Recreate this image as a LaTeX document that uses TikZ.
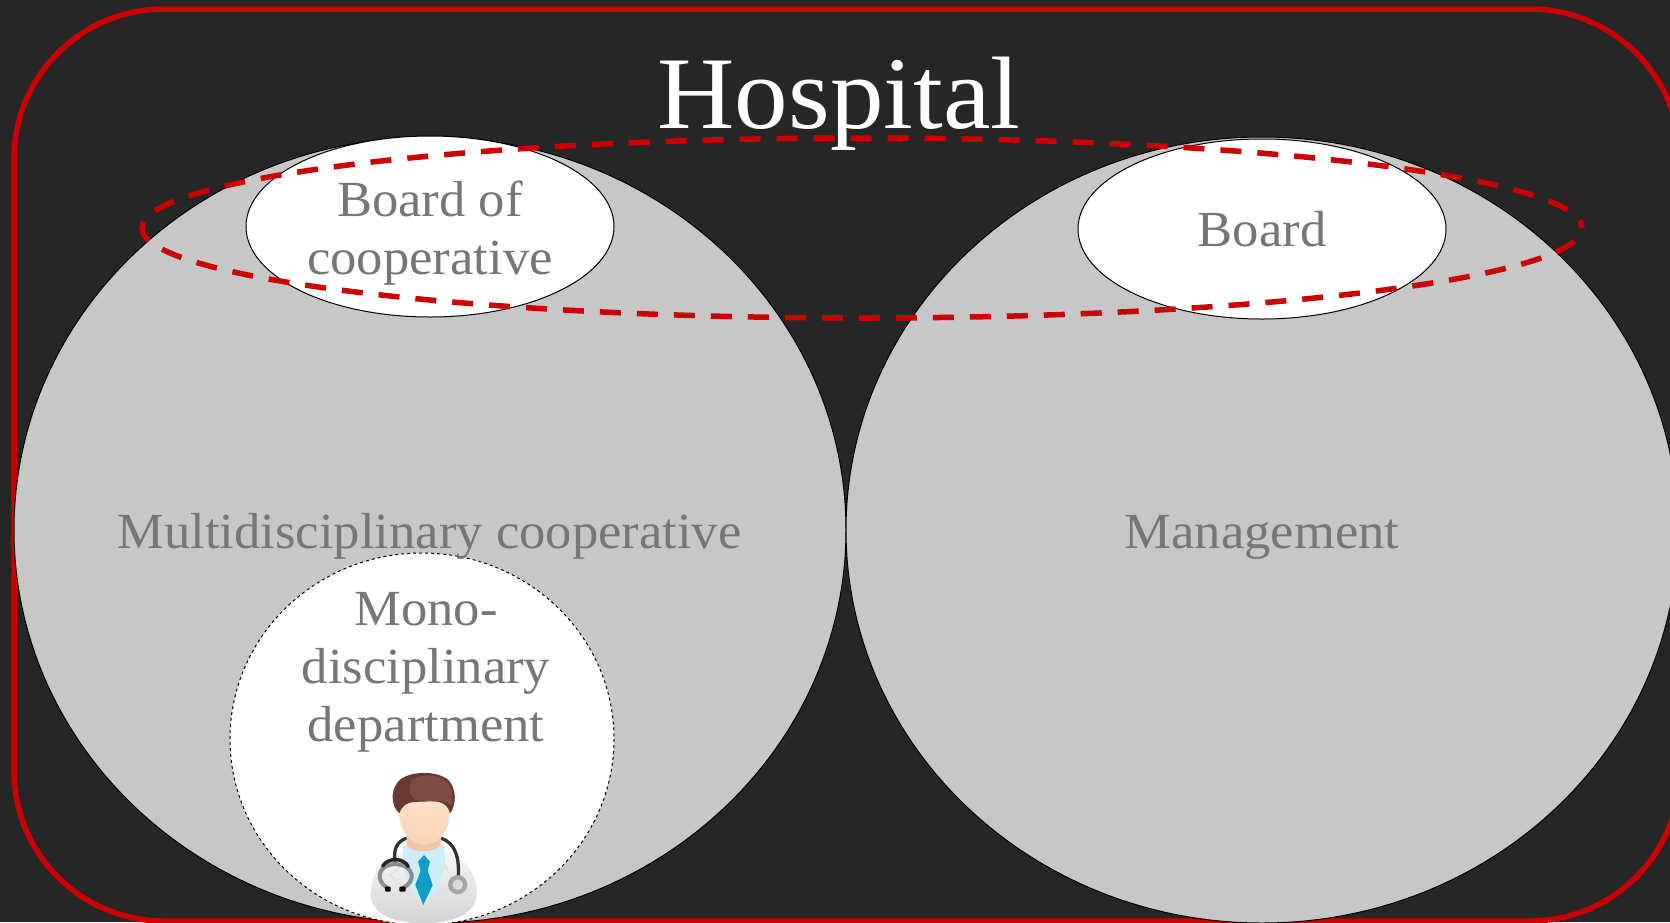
\documentclass[tikz,border=0pt]{standalone}
\usepackage{fontspec}
\setmainfont[FakeStretch=1.04]{Liberation Serif}
\usetikzlibrary{shapes.geometric}
\definecolor{bgc}{HTML}{262626}
\definecolor{redc}{HTML}{CC0000}
\definecolor{greyfill}{HTML}{C7C7C7}
\definecolor{labelc}{HTML}{767676}
\definecolor{hairdark}{HTML}{6A3830}
\definecolor{hairlight}{HTML}{7F4C45}
\definecolor{tiec}{HTML}{0F9EC6}
\definecolor{shirtc}{HTML}{CFECF8}
\definecolor{skintop}{HTML}{FDE4CF}
\definecolor{skinlow}{HTML}{FAD3B5}
\definecolor{neckc}{HTML}{F2C5A3}
\tikzset{
  bigcircle/.style={draw=black,fill=greyfill,line width=1pt},
  boardshape/.style={draw=black,fill=white,line width=1pt},
  lab/.style={text=labelc,font=\fontsize{50.6}{58}\selectfont,align=center,inner sep=0pt},
  dashring/.style={draw=redc,line width=5.5pt,dash pattern=on 21pt off 16pt,dash phase=21pt}
}
\begin{document}
\begin{tikzpicture}[x=1pt,y=-1pt]
\useasboundingbox (0,0) rectangle (1670,922);
\fill[bgc] (0,0) rectangle (1670,922);
\draw[redc,line width=5.5pt,rounded corners=150pt] (14,9) rectangle (1680,921);
\clip (0,0) rectangle (1670,922);
\path[bigcircle] (430,530) ellipse [x radius=416,y radius=393];
\path[bigcircle] (1262,530) ellipse [x radius=416,y radius=393];
\path[boardshape] (430,226.5) ellipse [x radius=184,y radius=90.5];
\path[boardshape] (1262,229) ellipse [x radius=184,y radius=90];
\path[draw=black,fill=white,line width=1pt,dashed] (422,739) ellipse [x radius=192,y radius=186];
\path[dashring] (862,228) ellipse [x radius=720,y radius=90];
\node[text=white,font=\fontsize{103}{110}\selectfont,inner sep=0pt,anchor=base] (hosp) at (839,128) {Hospital};
\node[lab] (boc) at (430,233) {Board of\\cooperative};
\node[lab,anchor=base] (brd) at (1262,246) {Board};
\node[lab,anchor=base] (multi) at (429.5,548) {Multidisciplinary cooperative};
\node[lab,anchor=base] (mgmt) at (1262,548) {Management};
\node[lab] (mono) at (426,672) {Mono-\\disciplinary\\department};
% doctor icon
\begin{scope}[shift={(340,750)},x=0.33333pt,y=-0.33333pt]
  % coat
  \path[top color=black!3,bottom color=black!17,shading angle=0]
    (92,430) .. controls (92,370) and (130,320) .. (190,300) -- (310,300)
    .. controls (375,320) and (412,370) .. (410,430)
    .. controls (410,490) and (340,520) .. (250,520)
    .. controls (160,520) and (90,490) .. (92,430) -- cycle;
  % shirt
  \fill[shirtc] (190,285) -- (312,285) -- (316,345) -- (290,420) -- (250,465) -- (212,420) -- (186,345) -- cycle;
  % lapels
  \draw[black!12,line width=1.2pt] (186,345) -- (150,375) -- (250,465) -- (340,400) -- (316,345);
  % tie
  \fill[tiec] (234,335) -- (252,315) -- (270,335) -- (263,362) -- (278,405) -- (250,465) -- (226,405) -- (242,362) -- cycle;
  % stethoscope tubes
  \draw[black!80,line width=3.3pt,line cap=round] (198,265) .. controls (170,275) and (160,300) .. (165,332);
  \draw[black!80,line width=3.3pt,line cap=round] (305,265) .. controls (345,280) and (358,320) .. (355,378);
  % neck and face
  \fill[neckc] (200,245) -- (305,245) -- (302,285) .. controls (280,310) and (220,310) .. (200,285) -- cycle;
  \shade[top color=skintop,bottom color=skinlow]
    (177,185) .. controls (177,120) and (330,120) .. (330,185)
    .. controls (330,240) and (295,285) .. (253,285)
    .. controls (212,285) and (177,240) .. (177,185) -- cycle;
  % hair
  \fill[hairdark] (178,190) .. controls (150,165) and (150,110) .. (185,85)
    .. controls (215,65) and (290,60) .. (325,90)
    .. controls (350,115) and (350,165) .. (330,190)
    .. controls (322,160) and (300,150) .. (255,155)
    .. controls (215,155) and (190,155) .. (178,190) -- cycle;
  \fill[hairlight] (215,90) .. controls (240,70) and (300,70) .. (325,100)
    .. controls (338,120) and (340,145) .. (335,165)
    .. controls (320,150) and (270,155) .. (225,150)
    .. controls (205,130) and (205,110) .. (215,90) -- cycle;
  % stethoscope head
  \draw[black!45,line width=4pt] (145,415) .. controls (105,395) and (110,345) .. (165,342)
    .. controls (225,345) and (230,395) .. (187,415);
  \draw[black!85,line width=3.5pt,line cap=round] (128,348) .. controls (145,322) and (190,322) .. (205,350);
  \fill[black,rounded corners=1pt] (135,410) rectangle (152,425);
  \fill[black,rounded corners=1pt] (178,410) rectangle (197,425);
  \fill[black!35] (353,404) circle [radius=29];
  \fill[black!15] (353,404) circle [radius=16];
\end{scope}
\end{tikzpicture}
\end{document}
